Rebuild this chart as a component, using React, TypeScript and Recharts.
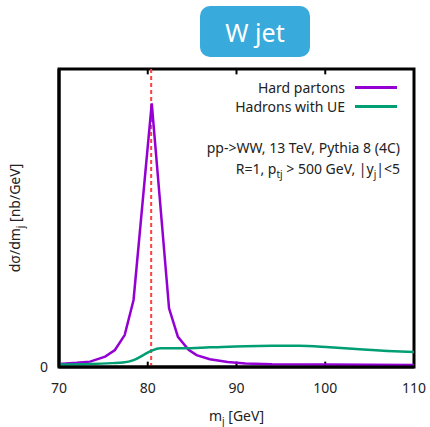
import { LineChart, Line, XAxis, YAxis, ReferenceLine, ReferenceArea } from 'recharts'

const partonMass = [70, 72, 73.5, 75.2, 76.3, 77.4, 78.4, 80.45, 82.4, 83.4, 84.6, 85.5, 87, 89, 91, 94, 100, 110]
const partonXsec = [0.01, 0.014, 0.018, 0.035, 0.057, 0.107, 0.225, 0.885, 0.197, 0.101, 0.058, 0.04, 0.026, 0.017, 0.012, 0.009, 0.008, 0.007]

const hadronMass = [70, 73.5, 76, 77.2, 78.4, 79.5, 80.45, 81.4, 84, 87, 91, 94, 97, 100.5, 104.3, 107, 110]
const hadronXsec = [0.008, 0.01, 0.013, 0.015, 0.023, 0.04, 0.055, 0.063, 0.063, 0.066, 0.07, 0.071, 0.071, 0.066, 0.059, 0.054, 0.05]

const xTicks = [70, 80, 90, 100, 110]
const innerTicks = [80, 90, 100]
const W_MASS = 80.385

const FONT = '"Noto Sans", "Open Sans", sans-serif'
const PURPLE = '#9400d3'
const GREEN = '#009e73'

const series = [
  { name: 'Hard partons', color: PURPLE },
  { name: 'Hadrons with UE', color: GREEN },
]

const partonData = partonMass.map((m, i) => ({ m, v: partonXsec[i] }))
const hadronData = hadronMass.map((m, i) => ({ m, v: hadronXsec[i] }))

export default function App() {
  return (
    <div style={{ position: 'absolute', left: 0, top: 0, width: 430, height: 427, background: '#fff', fontFamily: FONT }}>
      <div
        style={{
          position: 'absolute', left: 200, top: 6, width: 110, height: 51, borderRadius: 10,
          background: '#38aadc', color: '#fff', fontSize: 25, display: 'flex',
          alignItems: 'center', justifyContent: 'center',
        }}
      >
        W jet
      </div>
      <LineChart width={430} height={427} margin={{ top: 69, right: 16, bottom: 0, left: 0 }}>
        <XAxis
          type="number" dataKey="m" domain={[70, 110]} ticks={xTicks} allowDataOverflow
          height={60} tickLine={false} tickMargin={10}
          axisLine={{ stroke: '#000', strokeWidth: 3 }}
          tick={{ fill: '#222', fontSize: 14, fontFamily: FONT }}
          label={{
            position: 'insideBottom',
            content: ({ viewBox }: any) => (
              <text x={viewBox.x + viewBox.width / 2} y={421} textAnchor="middle" fontSize={14} fontFamily={FONT} fill="#222">
                m<tspan dy={4} fontSize={10}>j</tspan><tspan dy={-4}> [GeV]</tspan>
              </text>
            ),
          }}
        />
        <YAxis
          type="number" domain={[0, 1]} ticks={[0]} width={59} tickSize={0} tickMargin={11}
          axisLine={{ stroke: '#000', strokeWidth: 3 }}
          tick={{ fill: '#222', fontSize: 14, fontFamily: FONT }}
          label={{
            position: 'insideLeft',
            content: ({ viewBox }: any) => {
              const cy = viewBox.y + viewBox.height / 2
              return (
                <text x={20} y={cy} transform={`rotate(-90 20 ${cy})`} textAnchor="middle" fontSize={14} fontFamily={FONT} fill="#222">
                  dσ/dm<tspan dy={4} fontSize={10}>j</tspan><tspan dy={-4}> [nb/GeV]</tspan>
                </text>
              )
            },
          }}
        />
        <ReferenceArea x1={70} x2={110} y1={0} y2={1} fill="none" stroke="#000" strokeWidth={3} />
        {innerTicks.map((t) => (
          <ReferenceLine key={`t${t}`} segment={[{ x: t, y: 1 }, { x: t, y: 0.982 }]} stroke="#000" strokeWidth={2} />
        ))}
        {innerTicks.map((t) => (
          <ReferenceLine key={`b${t}`} segment={[{ x: t, y: 0 }, { x: t, y: 0.018 }]} stroke="#000" strokeWidth={2} />
        ))}
        <ReferenceLine x={W_MASS} stroke="#ff4040" strokeWidth={2} strokeDasharray="4 3" />
        <Line
          data={partonData} dataKey="v" name="Hard partons" type="linear" stroke={PURPLE}
          strokeWidth={2.5} dot={false} isAnimationActive={false}
        />
        <Line
          data={hadronData} dataKey="v" name="Hadrons with UE" type="monotone" stroke={GREEN}
          strokeWidth={2.5} dot={false} isAnimationActive={false}
        />
      </LineChart>
      <div style={{ position: 'absolute', right: 33, top: 78, fontSize: 14, color: '#222' }}>
        {series.map((s) => (
          <div key={s.name} style={{ display: 'flex', alignItems: 'center', justifyContent: 'flex-end', height: 19 }}>
            <span>{s.name}</span>
            <span style={{ display: 'inline-block', width: 42, height: 3, background: s.color, marginLeft: 10 }} />
          </div>
        ))}
      </div>
      <div style={{ position: 'absolute', right: 30, top: 137, fontSize: 14, color: '#222', textAlign: 'right', lineHeight: '21px' }}>
        <div>pp-&gt;WW, 13 TeV, Pythia 8 (4C)</div>
        <div>
          R=1, p<sub style={{ fontSize: 10 }}>tj</sub> &gt; 500 GeV, |y<sub style={{ fontSize: 10 }}>j</sub>|&lt;5
        </div>
      </div>
    </div>
  )
}
